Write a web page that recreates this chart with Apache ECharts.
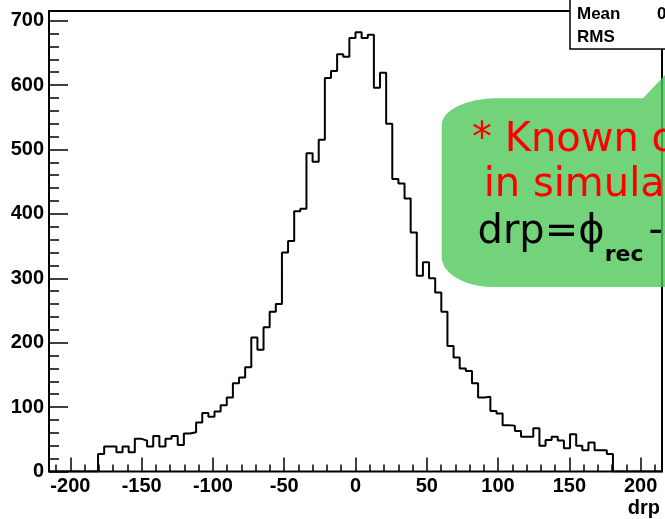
<!DOCTYPE html>
<html>
<head>
<meta charset="utf-8">
<script src="https://cdn.jsdelivr.net/npm/echarts@6/dist/echarts.min.js"></script>
<style>
  html, body { margin: 0; padding: 0; background: #fff; }
  #chart { width: 665px; height: 519px; }
</style>
</head>
<body>
<div id="chart"></div>
<script>
// drp histogram: 100 equal bins spanning [-215, 215]
const binLow = -215;
const binHigh = 215;
const binCount = 100;
const counts = [
  0, 0, 0, 0, 0, 0, 0, 0,
  27, 39, 39, 30, 39, 30, 51, 48, 39, 55,
  39, 51, 55, 41, 59, 61, 76, 91, 85, 93,
  103, 115, 137, 146, 162, 208, 189, 224, 248, 260,
  340, 358, 404, 408, 494, 481, 515, 611, 622, 648,
  644, 673, 682, 673, 678, 596, 619, 540, 454, 447,
  424, 371, 304, 325, 300, 278, 248, 195, 177, 160,
  156, 137, 115, 116, 94, 90, 72, 71, 63, 54,
  54, 67, 40, 49, 54, 48, 36, 58, 40, 33,
  45, 33, 33, 27,
  0, 0, 0, 0, 0, 0, 0, 0
];

// axis ticks and labels
const xTickValues = [-200, -150, -100, -50, 0, 50, 100, 150, 200];
const xMinorValues = [-210, -190, -180, -170, -160, -140, -130, -120, -110, -90, -80, -70, -60,
  -40, -30, -20, -10, 10, 20, 30, 40, 60, 70, 80, 90, 110, 120, 130, 140, 160, 170, 180, 190, 210];
const yTickValues = [0, 100, 200, 300, 400, 500, 600, 700];
const yMinorValues = [20, 40, 60, 80, 120, 140, 160, 180, 220, 240, 260, 280, 320, 340, 360, 380,
  420, 440, 460, 480, 520, 540, 560, 580, 620, 640, 660, 680];
const yMax = 715;
const xTitle = 'drp';

// annotation text
const noteLine1 = '* Known offset';
const noteLine2 = ' in simulation';
const formulaParts = ['drp=\u03d5', 'rec', '-\u03d5', 'gen'];

// bin edges -> step outline points
const binWidth = (binHigh - binLow) / binCount;
const outline = [];
for (let i = 0; i < binCount; i++) {
  outline.push([binLow + i * binWidth, counts[i]]);
}
outline.push([binHigh, 0]);

// statistics shown in the stats box
let sw = 0, sx = 0, sxx = 0;
for (let i = 0; i < binCount; i++) {
  const c = binLow + (i + 0.5) * binWidth;
  sw += counts[i]; sx += counts[i] * c; sxx += counts[i] * c * c;
}
const mean = sx / sw;
const rms = Math.sqrt(sxx / sw - mean * mean);

const labelFont = '"Liberation Sans", Arial, sans-serif';
const noteFont = '"DejaVu Sans", sans-serif';

// callout outline with elliptical left corners
function arc(cx, cy, rx, ry, a0, a1, n) {
  const pts = [];
  for (let k = 0; k <= n; k++) {
    const a = (a0 + (a1 - a0) * k / n) * Math.PI / 180;
    pts.push([cx + rx * Math.cos(a), cy + ry * Math.sin(a)]);
  }
  return pts;
}
const cL = 441.7, cT = 98.3, cB = 287, cR = 1000;
const calloutPts = []
  .concat(arc(cL + 55, cT + 27, 55, 27, 180, 270, 24))
  .concat([[643, cT], [700, 38], [760, cT], [cR, cT], [cR, cB]])
  .concat(arc(cL + 52, cB - 30, 52, 30, 90, 180, 24));

// text measurement for the formula with subscripts
const mctx = document.createElement('canvas').getContext('2d');
function textWidth(t, font) { mctx.font = font; return mctx.measureText(t).width; }
const bigFont = '40px ' + noteFont;
const subFont = 'bold 22px ' + noteFont;
const subGap = 5;
const fx0 = 477.5;
const fBase = 246.5, sBase = 263;
const midOff = (fs) => 0.35 * fs;
const fx1 = fx0 + textWidth(formulaParts[0], bigFont);
const fx2 = fx1 + textWidth(formulaParts[1], subFont) + subGap;
const fx3 = fx2 + textWidth(formulaParts[2], bigFont);

function txt(x, y, text, font, fill, z, align) {
  return {
    type: 'text', x: x, y: y, z: z,
    style: { text: text, font: font, fill: fill,
      textAlign: align || 'left', align: align || 'left',
      textVerticalAlign: 'middle', verticalAlign: 'middle' }
  };
}

const gridBox = { left: 49, right: 3, top: 11, bottom: 47.5 };
const chart = echarts.init(document.getElementById('chart'), null, { renderer: 'canvas' });
const noLine = { show: false, onZero: false };

chart.setOption({
  animation: false,
  backgroundColor: '#ffffff',
  grid: [
    Object.assign({ show: true, borderColor: '#000', borderWidth: 2, backgroundColor: 'transparent' }, gridBox),
    Object.assign({ show: false }, gridBox)
  ],
  xAxis: [
    {
      type: 'value', gridIndex: 0, position: 'bottom', min: binLow, max: binHigh,
      axisLine: noLine, splitLine: { show: false },
      axisTick: { show: true, inside: true, length: 14, customValues: xTickValues,
        lineStyle: { color: '#000', width: 1.5 } },
      axisLabel: { show: true, customValues: xTickValues, margin: 5, color: '#000',
        fontFamily: labelFont, fontWeight: 'bold', fontSize: 20 }
    },
    {
      type: 'value', gridIndex: 1, position: 'bottom', min: binLow, max: binHigh,
      axisLine: noLine, splitLine: { show: false }, axisLabel: { show: false },
      axisTick: { show: true, inside: true, length: 7, customValues: xMinorValues,
        lineStyle: { color: '#000', width: 1.5 } }
    }
  ],
  yAxis: [
    {
      type: 'value', gridIndex: 0, position: 'left', min: 0, max: yMax,
      axisLine: noLine, splitLine: { show: false },
      axisTick: { show: true, inside: true, length: 19, customValues: yTickValues,
        lineStyle: { color: '#000', width: 1.5 } },
      axisLabel: { show: true, customValues: yTickValues, margin: 5, color: '#000',
        fontFamily: labelFont, fontWeight: 'bold', fontSize: 20 }
    },
    {
      type: 'value', gridIndex: 1, position: 'left', min: 0, max: yMax,
      axisLine: noLine, splitLine: { show: false }, axisLabel: { show: false },
      axisTick: { show: true, inside: true, length: 10, customValues: yMinorValues,
        lineStyle: { color: '#000', width: 1.5 } }
    }
  ],
  series: [{
    type: 'line', xAxisIndex: 0, yAxisIndex: 0, step: 'end', symbol: 'none',
    silent: true, data: outline,
    lineStyle: { color: '#000', width: 2 }
  }],
  graphic: [
    txt(660, 515.5 - midOff(20), xTitle, 'bold 20px ' + labelFont, '#000', 20, 'right'),
    // stats box
    { type: 'rect', z: 20, shape: { x: 570, y: -40, width: 200, height: 89 },
      style: { fill: '#fff', stroke: '#000', lineWidth: 1.5 } },
    txt(577, 20 - midOff(17), 'Mean', 'bold 17px ' + labelFont, '#000', 21),
    txt(709, 20 - midOff(17), mean.toPrecision(4), 'bold 17px ' + labelFont, '#000', 21, 'right'),
    txt(577, 43.3 - midOff(17), 'RMS', 'bold 17px ' + labelFont, '#000', 21),
    txt(709, 43.3 - midOff(17), rms.toPrecision(4), 'bold 17px ' + labelFont, '#000', 21, 'right'),
    // callout
    { type: 'polygon', z: 30, shape: { points: calloutPts },
      style: { fill: 'rgba(80,200,90,0.8)' } },
    txt(472, 155 - midOff(40), noteLine1, bigFont, '#ff0000', 31),
    txt(471, 200 - midOff(40), noteLine2, bigFont, '#ff0000', 31),
    txt(fx0, fBase - midOff(40), formulaParts[0], bigFont, '#000', 31),
    txt(fx1, sBase - midOff(22), formulaParts[1], subFont, '#000', 31),
    txt(fx2, fBase - midOff(40), formulaParts[2], bigFont, '#000', 31),
    txt(fx3, sBase - midOff(22), formulaParts[3], subFont, '#000', 31)
  ]
});
</script>
</body>
</html>
